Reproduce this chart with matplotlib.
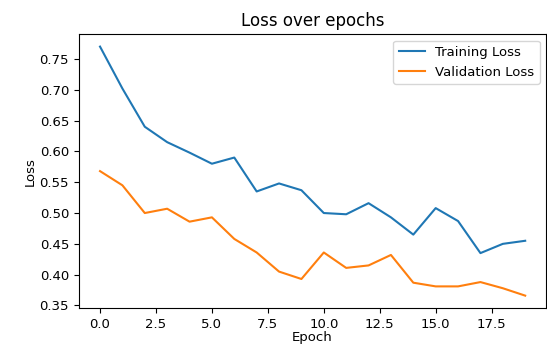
import matplotlib
matplotlib.use("Agg")
import matplotlib.pyplot as plt

epochs=list(range(20))
train_loss=[0.770,0.702,0.640,0.615,0.598,0.580,0.590,0.535,0.548,0.537,
            0.500,0.498,0.516,0.493,0.465,0.508,0.487,0.435,0.450,0.455]
val_loss=[0.568,0.545,0.500,0.507,0.486,0.493,0.458,0.436,0.405,0.393,
          0.436,0.411,0.415,0.432,0.387,0.381,0.381,0.388,0.378,0.366]

fig=plt.figure(figsize=(5.47,3.45),dpi=100)
ax=fig.add_axes([0.144,0.107,0.855,0.794])
ax.plot(epochs,train_loss,label="Training Loss")
ax.plot(epochs,val_loss,label="Validation Loss")
ax.set_title("Loss over epochs",fontsize=12)
ax.set_xlabel("Epoch",fontsize=9.5,labelpad=0)
ax.set_ylabel("Loss",fontsize=9.5,labelpad=2)
ax.tick_params(labelsize=9.5)
ax.legend(fontsize=9.5,loc="upper right")
fig.savefig("out.png",dpi=100)
